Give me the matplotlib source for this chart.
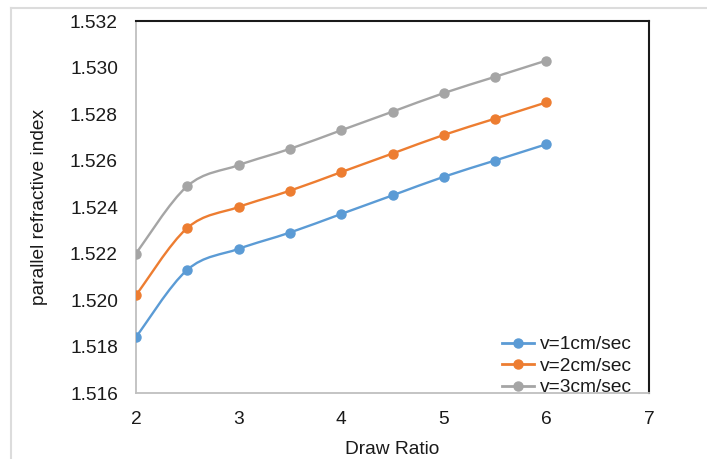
import matplotlib
matplotlib.use("Agg")
import matplotlib.pyplot as plt
import numpy as np
from matplotlib.path import Path
from matplotlib.patches import PathPatch
from matplotlib.lines import Line2D

plt.rcParams['font.family'] = ['Liberation Sans', 'DejaVu Sans']

draw_ratio = [2, 2.5, 3, 3.5, 4, 4.5, 5, 5.5, 6]
v1 = [1.5184, 1.5213, 1.5222, 1.5229, 1.5237, 1.5245, 1.5253, 1.5260, 1.5267]
v2 = [1.5202, 1.5231, 1.5240, 1.5247, 1.5255, 1.5263, 1.5271, 1.5278, 1.5285]
v3 = [1.5220, 1.5249, 1.5258, 1.5265, 1.5273, 1.5281, 1.5289, 1.5296, 1.5303]
labels = ['v=1cm/sec', 'v=2cm/sec', 'v=3cm/sec']
colors = ['#5B9BD5', '#ED7D31', '#A5A5A5']
x_ticks = [2, 3, 4, 5, 6, 7]
y_ticks = [1.516, 1.518, 1.520, 1.522, 1.524, 1.526, 1.528, 1.530, 1.532]


def smooth_path(xs, ys):
    pts = np.column_stack([xs, ys]).astype(float)
    n = len(pts)
    verts = [pts[0]]
    codes = [Path.MOVETO]
    for i in range(n - 1):
        p0 = pts[i - 1] if i > 0 else pts[i]
        p1 = pts[i]
        p2 = pts[i + 1]
        p3 = pts[i + 2] if i + 2 < n else pts[i + 1]
        c1 = p1 + (p2 - p0) / 6.0
        c2 = p2 - (p3 - p1) / 6.0
        verts += [c1, c2, p2]
        codes += [Path.CURVE4] * 3
    return Path(verts, codes)


FS = 13.8
fig = plt.figure(figsize=(7.07, 4.59), dpi=100)
ax = fig.add_axes([136 / 707, 1 - 393 / 459, (649 - 136) / 707, (393 - 21) / 459])

handles = []
for ys, c, lab in zip([v1, v2, v3], colors, labels):
    patch = PathPatch(smooth_path(draw_ratio, ys), facecolor='none', edgecolor=c, lw=1.7, zorder=2)
    ax.add_patch(patch)
    ax.plot(draw_ratio, ys, 'o', color=c, markersize=6.5, zorder=3)
    handles.append(Line2D([], [], color=c, lw=2.0, marker='o', markersize=6.5, label=lab))

ax.set_xlim(2, 7)
ax.set_ylim(1.516, 1.532)
ax.set_xticks(x_ticks)
ax.set_yticks(y_ticks)
ax.set_xticklabels([str(t) for t in x_ticks])
ax.set_yticklabels([f"{t:.3f}" for t in y_ticks])
ax.tick_params(axis='both', length=0, labelsize=FS, colors='#1a1a1a')
ax.tick_params(axis='x', pad=13)
ax.tick_params(axis='y', pad=13)

for s in ['left', 'bottom']:
    ax.spines[s].set_color('#bfbfbf')
    ax.spines[s].set_linewidth(1.3)
for s in ['top', 'right']:
    ax.spines[s].set_color('#1a1a1a')
    ax.spines[s].set_linewidth(1.5)

ax.set_xlabel('Draw Ratio', fontsize=FS, color='#1a1a1a', labelpad=9)
ax.set_ylabel('parallel refractive index', fontsize=FS, color='#1a1a1a', labelpad=16)

leg = ax.legend(handles=handles, loc='lower right', bbox_to_anchor=(0.982, -0.03),
                frameon=False, fontsize=FS, handlelength=1.7, handletextpad=0.3,
                labelspacing=0.22, borderaxespad=0.0)
for t in leg.get_texts():
    t.set_color('#1a1a1a')

# outer light frame (cropped screenshot border)
fig.add_artist(Line2D([11 / 707, 1], [1 - 8 / 459, 1 - 8 / 459], transform=fig.transFigure,
                      color='#dcdcdc', lw=1.5))
fig.add_artist(Line2D([11 / 707, 11 / 707], [0, 1 - 8 / 459], transform=fig.transFigure,
                      color='#dcdcdc', lw=1.5))

fig.savefig('out.png', dpi=100, facecolor='white')
